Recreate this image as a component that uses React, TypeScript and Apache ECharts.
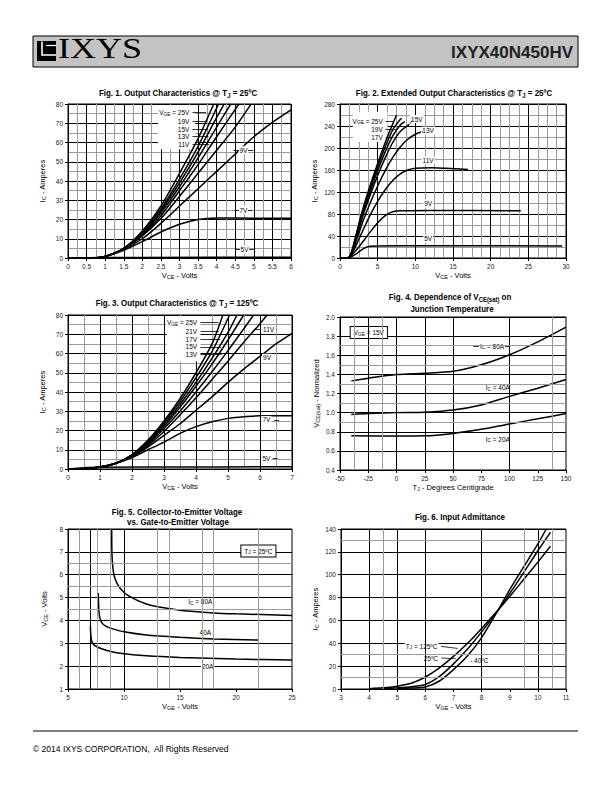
import React, { useEffect, useRef } from "react";
import * as echarts from "echarts";

const FONT = "'Liberation Sans', Arial, Helvetica, sans-serif";
const SERIF = "'Liberation Serif', 'Times New Roman', serif";

// ---------------- Fig. 1  (Output characteristics @ 25C) ----------------
const F1_V25 = [[0, 0], [0.7, 0.1], [1, 0.8], [1.5, 5], [2, 14], [2.5, 27], [3, 44], [3.5, 62], [3.92, 80]];
const F1_V19 = [[0, 0], [0.7, 0.1], [1, 0.8], [1.5, 5], [2, 13.5], [2.5, 25.5], [3, 41], [3.5, 58], [4.05, 80]];
const F1_V17 = [[0, 0], [0.7, 0.1], [1, 0.8], [1.5, 5], [2, 13], [2.5, 24.5], [3, 39], [3.5, 55], [4, 73], [4.2, 80]];
const F1_V15 = [[0, 0], [0.7, 0.1], [1, 0.8], [1.5, 4.9], [2, 12.5], [2.5, 23.5], [3, 37], [3.5, 52], [4, 68], [4.38, 80]];
const F1_V13 = [[0, 0], [0.7, 0.1], [1, 0.8], [1.5, 4.8], [2, 12], [2.5, 22], [3, 35], [3.5, 48.5], [4, 63], [4.6, 80]];
const F1_V11 = [[0, 0], [0.7, 0.1], [1, 0.8], [1.5, 4.7], [2, 11.5], [2.5, 20.5], [3, 32], [3.5, 44], [4, 56], [4.5, 68], [4.92, 79.8]];
const F1_V9 = [[0, 0], [0.7, 0.1], [1, 0.8], [1.5, 4.5], [2, 10], [2.5, 18], [3, 27], [3.5, 36], [4, 45], [4.5, 54], [5, 63], [5.5, 70.5], [6, 77]];
const F1_V7 = [[0, 0], [0.7, 0.1], [1, 0.8], [1.5, 4], [2, 8.5], [2.5, 13.5], [3, 17.5], [3.5, 20], [4, 20.8], [5, 20.7], [6, 20.6]];
const F1_V5 = [[0, 0], [1, 0.2], [2, 0.3], [6, 0.4]];
const F1_CURVES = [F1_V25, F1_V19, F1_V17, F1_V15, F1_V13, F1_V11, F1_V9, F1_V7, F1_V5];
const F1_LABELS: [string, number, number, string][] = [
  ["V{s|GE} = 25V", 3.32, 75.5, "r"],
  ["19V", 3.32, 71, "r"],
  ["15V", 3.32, 67, "r"],
  ["13V", 3.32, 63, "r"],
  ["11V", 3.32, 59, "r"],
  ["9V", 4.72, 56, "c"],
  ["7V", 4.72, 24.9, "c"],
  ["5V", 4.75, 4.5, "c"],
];
const F1_LEADERS = [
  [3.35, 75.5, 3.72, 75.5], [3.35, 71, 3.74, 71], [3.35, 67, 3.76, 67], [3.35, 63, 3.78, 63], [3.35, 59, 3.8, 59],
  [4.45, 56, 4.6, 56], [4.84, 56, 4.98, 56],
  [4.48, 24.9, 4.6, 24.9], [4.84, 24.9, 4.96, 24.9],
  [4.5, 4.5, 4.63, 4.5], [4.87, 4.5, 5.0, 4.5],
];
const F1_WHITE = [[2.42, 56.5, 3.42, 79.5]];

// ---------------- Fig. 2  (Extended output characteristics) ----------------
const F2_V25 = [[0, 0], [1, 0], [1.3, 3], [1.6, 14], [2, 35], [2.5, 62], [3, 88], [4, 132], [5, 172], [6, 210], [7, 244], [7.5, 260]];
const F2_V19 = [[0, 0], [1, 0], [1.3, 3], [1.6, 13], [2, 33], [2.5, 59], [3, 84], [4, 127], [5, 166], [6, 202], [7, 233], [8, 252], [8.2, 254]];
const F2_V17 = [[0, 0], [1, 0], [1.3, 3], [1.6, 12], [2, 31], [2.5, 56], [3, 80], [4, 121], [5, 159], [6, 193], [7, 222], [8, 242], [8.6, 248]];
const F2_V15 = [[0, 0], [1, 0], [1.3, 3], [1.6, 11], [2, 29], [2.5, 52], [3, 75], [4, 114], [5, 150], [6, 182], [7, 210], [8, 230], [9.2, 243]];
const F2_V13 = [[0, 0], [1, 0], [1.3, 3], [1.6, 10], [2, 25], [2.5, 45], [3, 65], [4, 100], [5, 131], [6, 159], [7, 183], [8, 202], [9, 216], [10, 225], [10.8, 229]];
const F2_V11 = [[0, 0], [1, 0], [1.3, 2.5], [1.6, 8], [2, 19], [2.5, 34], [3, 49], [4, 78], [5, 103], [6, 124], [7, 141], [8, 153], [9, 160], [10, 163], [12, 164], [14, 163], [17, 161]];
const F2_V9 = [[0, 0], [1, 0], [1.3, 2], [1.6, 6], [2, 12], [2.5, 20], [3, 29], [4, 47], [5, 64], [6, 77], [7, 84], [8, 86], [12, 86.5], [24, 86]];
const F2_V5 = [[0, 0], [1, 0], [1.3, 1], [1.6, 3], [2, 6], [2.5, 11], [3, 16], [3.5, 19.5], [4, 21.5], [5, 22], [10, 22.3], [29.5, 22]];
const F2_CURVES = [F2_V25, F2_V19, F2_V17, F2_V15, F2_V13, F2_V11, F2_V9, F2_V5];
const F2_LABELS: [string, number, number, string][] = [
  ["V{s|GE} = 25V", 5.95, 248.5, "r"],
  ["19V", 5.95, 234, "r"],
  ["17V", 5.95, 219.5, "r"],
  ["15V", 10.2, 252.7, "c"],
  ["13V", 11.7, 231.5, "c"],
  ["11V", 11.7, 178, "c"],
  ["9V", 11.7, 99.4, "c"],
  ["5V", 11.7, 35, "c"],
];
const F2_LEADERS = [
  [6.05, 248.5, 7.1, 248.5], [6.05, 234, 7.4, 234], [6.05, 219.5, 7.0, 219.5],
  [9.3, 244, 9.55, 250], [10.9, 229, 11.05, 231],
];
const F2_WHITE = [[1.7, 211, 6.3, 266]];

// ---------------- Fig. 3  (Output characteristics @ 125C) ----------------
const F3_V25 = [[0, 0], [0.6, 0.3], [1, 1], [1.5, 3], [2, 7.5], [2.5, 15], [3, 25], [3.5, 36.5], [4, 50], [4.5, 65], [4.84, 80]];
const F3_V21 = [[0, 0], [0.6, 0.3], [1, 1], [1.5, 3], [2, 7.3], [2.5, 14.5], [3, 24], [3.5, 35], [4, 47.5], [4.5, 61], [5.05, 80]];
const F3_V17 = [[0, 0], [0.6, 0.3], [1, 1], [1.5, 3], [2, 7.1], [2.5, 14], [3, 23], [3.5, 33.5], [4, 45], [4.5, 57.5], [5, 71], [5.28, 80]];
const F3_V15 = [[0, 0], [0.6, 0.3], [1, 1], [1.5, 3], [2, 7], [2.5, 13.5], [3, 22], [3.5, 32], [4, 43], [4.5, 54.5], [5, 67], [5.49, 80]];
const F3_V13 = [[0, 0], [0.6, 0.3], [1, 1], [1.5, 3], [2, 6.8], [2.5, 13], [3, 21], [3.5, 30], [4, 40], [4.5, 50.5], [5, 61.5], [5.5, 73], [5.8, 80]];
const F3_V11 = [[0, 0], [0.6, 0.3], [1, 1], [1.5, 3], [2, 6.6], [2.5, 12.3], [3, 19.5], [3.5, 28], [4, 37], [4.5, 46.5], [5, 56], [5.5, 66], [6, 75.5], [6.22, 80]];
const F3_V9 = [[0, 0], [0.6, 0.3], [1, 1], [1.5, 3], [2, 6.3], [2.5, 11.5], [3, 17.5], [3.5, 23.5], [4, 30.5], [4.5, 37.5], [5, 45], [5.5, 52], [6, 58.5], [6.5, 65], [7, 70.5]];
const F3_V7 = [[0, 0], [0.6, 0.3], [1, 1], [1.5, 3], [2, 6], [2.5, 10], [3, 14], [3.5, 18.5], [4, 22], [4.5, 24.5], [5, 26.3], [5.5, 27.2], [6, 27.6], [6.3, 27.7], [7, 27.7]];
const F3_V5 = [[0, 0], [0.6, 0.8], [3, 1], [7, 1.2]];
const F3_CURVES = [F3_V25, F3_V21, F3_V17, F3_V15, F3_V13, F3_V11, F3_V9, F3_V7, F3_V5];
const F3_LABELS: [string, number, number, string][] = [
  ["V{s|GE} = 25V", 4.1, 76, "r"],
  ["21V", 4.1, 71.3, "r"],
  ["17V", 4.1, 67.4, "r"],
  ["15V", 4.1, 63.5, "r"],
  ["13V", 4.1, 59.6, "r"],
  ["11V", 6.27, 72.6, "c"],
  ["9V", 6.22, 57.8, "c"],
  ["7V", 6.2, 25.5, "c"],
  ["5V", 6.2, 5.5, "c"],
];
const F3_LEADERS = [
  [4.14, 76, 4.7, 76], [4.14, 71.3, 4.72, 71.3], [4.14, 67.4, 4.75, 67.4], [4.14, 63.5, 4.78, 63.5], [4.14, 59.6, 4.8, 59.6],
  [6.45, 25.5, 6.6, 25.5], [6.4, 5.5, 6.55, 5.5], [5.85, 72.6, 6.0, 72.6],
];
const F3_WHITE = [[3.08, 55.8, 4.14, 79.5]];

// ---------------- Fig. 4  (VCE(sat) vs temperature) ----------------
const F4_IC80 = [[-40, 1.332], [-25, 1.36], [0, 1.398], [25, 1.412], [50, 1.432], [75, 1.5], [100, 1.605], [125, 1.74], [150, 1.895]];
const F4_IC40 = [[-40, 0.98], [-25, 0.99], [0, 1.0], [25, 1.005], [50, 1.027], [75, 1.08], [100, 1.17], [125, 1.255], [150, 1.346]];
const F4_IC20 = [[-40, 0.757], [0, 0.755], [25, 0.757], [50, 0.782], [75, 0.825], [100, 0.882], [125, 0.935], [150, 0.99]];
const F4_CURVES = [F4_IC80, F4_IC40, F4_IC20];
const F4_LABELS: [string, number, number, string][] = [
  ["I{s|C} = 80A", 84.5, 1.694, "c"],
  ["I{s|C} = 40A", 89.6, 1.259, "c"],
  ["I{s|C} = 20A", 89.6, 0.724, "c"],
];
const F4_BOXES: [string, number, number][] = [["V{s|GE} = 15V", -24.5, 1.838]];
const F4_LEADERS = [[68, 1.694, 73, 1.694], [96, 1.694, 100.5, 1.694]];
const F4_VLINES_BLACK = [-25, 0, 25, 50, 100];
const F4_VLINES_GRAY = [-37.5, -12.5, 137.5];
const F4_HLINES_GRAY = [0.9, 1.1, 1.3, 1.5, 1.7];

// ---------------- Fig. 5  (VCE vs VGE) ----------------
const F5_IC80 = [[8.9, 8], [8.92, 7], [8.97, 6.5], [9.1, 6.0], [9.4, 5.6], [10, 5.22], [11, 4.92], [12, 4.72], [13, 4.6], [15, 4.45], [18, 4.33], [20, 4.29], [25, 4.22]];
const F5_IC40 = [[7.7, 5.2], [7.75, 4.5], [7.85, 4.1], [8.1, 3.85], [8.5, 3.72], [9, 3.63], [10, 3.5], [12, 3.36], [15, 3.26], [18, 3.19], [22, 3.14]];
const F5_IC20 = [[7.0, 3.75], [7.05, 3.3], [7.15, 3.05], [7.4, 2.9], [8, 2.76], [9, 2.62], [10, 2.54], [12, 2.45], [15, 2.38], [20, 2.31], [25, 2.27]];
const F5_CURVES = [F5_IC80, F5_IC40, F5_IC20];
const F5_LABELS: [string, number, number, string][] = [
  ["I{s|C} = 80A", 16.81, 4.81, "c"],
  ["40A", 17.26, 3.48, "c"],
  ["20A", 17.47, 1.99, "c"],
];
const F5_BOXES: [string, number, number][] = [["T{s|J} = 25ºC", 22.0, 7.04]];
const F5_VLINES_BLACK = [7, 10];
const F5_VLINES_GRAY = [6, 7.65, 8.8, 13, 14, 17, 18, 22];
const F5_HLINES_GRAY = [4.5, 5.5, 6.5];

// ---------------- Fig. 6  (Input admittance) ----------------
const F6_T125 = [[4, 0.3], [4.5, 1], [5, 2.5], [5.5, 5], [6, 10.5], [6.5, 18.5], [7, 28.5], [7.5, 40], [8, 53], [8.6, 69.5], [9, 81], [9.5, 96], [10, 111], [10.45, 125]];
const F6_T25 = [[4.5, 0.3], [5, 1], [5.5, 2], [6, 4], [6.5, 11], [7, 22], [7.5, 35], [8, 50], [8.6, 69.5], [9, 83.5], [9.5, 102], [10, 121], [10.45, 137]];
const F6_TM40 = [[5, 0.3], [5.5, 0.8], [6, 1.8], [6.5, 7], [7, 17], [7.5, 29], [8, 45], [8.6, 69.5], [9, 87], [9.5, 107], [10, 127], [10.3, 140]];
const F6_CURVES = [F6_T125, F6_T25, F6_TM40];
const F6_LABELS: [string, number, number, string][] = [
  ["T{s|J} = 125ºC", 6.5, 37.3, "r"],
  ["25ºC", 6.52, 27.1, "r"],
  ["- 40ºC", 7.52, 24.8, "l"],
];
const F6_LEADERS = [[6.55, 37.3, 7.15, 35.5], [6.57, 27.1, 7.08, 26.5]];
const F6_VLINES_BLACK = [4, 5, 6, 8, 10];
const F6_VLINES_GRAY = [4.5, 9.5, 10.5];
const F6_HLINES_GRAY = [10, 30, 130];

// ---------------- layout ----------------
const GRIDS = [
  { left: 68, top: 104, width: 223, height: 154 },
  { left: 340, top: 104, width: 226, height: 154 },
  { left: 68, top: 315, width: 224, height: 154 },
  { left: 340, top: 317, width: 226, height: 153 },
  { left: 68, top: 529, width: 224, height: 160 },
  { left: 341, top: 529, width: 225, height: 160 },
];

const subRich = (fs: number, bold = false) => ({
  s: {
    fontSize: +(fs * 0.74).toFixed(2), fontFamily: FONT, fontWeight: bold ? "bold" : "normal", verticalAlign: "bottom",
    lineHeight: fs * 0.85, color: "#000", textBorderWidth: 0,
  },
});

function axis(
  gi: number, min: number, max: number, interval: number, name: string, nameGap: number,
  split: boolean, minorN: number, fmt?: (v: number) => string
) {
  return {
    type: "value", gridIndex: gi, min, max, interval,
    name, nameLocation: "middle", nameGap,
    nameTextStyle: { fontSize: 7.5, fontFamily: FONT, color: "#000", lineHeight: 9, rich: subRich(7.5) },
    axisLine: { show: true, onZero: false, lineStyle: { color: "#000", width: 1 } },
    axisTick: { show: true, inside: false, length: 3, lineStyle: { color: "#000", width: 1 } },
    axisLabel: { fontSize: 6.5, fontFamily: FONT, color: "#222", margin: 5, formatter: fmt },
    splitLine: { show: split, lineStyle: { color: "#000", width: 1 } },
    minorTick: { show: false, splitNumber: minorN || 2 },
    minorSplitLine: { show: minorN > 0, lineStyle: { color: "#9a9a9a", width: 1 } },
  };
}

function figSeries(
  gi: number, curves: number[][][], labels: [string, number, number, string][], leaders: number[][],
  white: number[][], boxes: [string, number, number][],
  vBlack: number[], vGray: number[], hGray: number[]
) {
  const out: any[] = [];
  const base = { xAxisIndex: gi, yAxisIndex: gi, silent: true };
  const gl: any[] = [];
  vBlack.forEach((v) => gl.push({ xAxis: v, lineStyle: { color: "#000", width: 1, type: "solid" } }));
  vGray.forEach((v) => gl.push({ xAxis: v, lineStyle: { color: "#9a9a9a", width: 1, type: "solid" } }));
  hGray.forEach((v) => gl.push({ yAxis: v, lineStyle: { color: "#9a9a9a", width: 1, type: "solid" } }));
  if (gl.length) {
    out.push({ ...base, type: "line", data: [], z: 1, markLine: { silent: true, symbol: ["none", "none"], label: { show: false }, data: gl } });
  }
  if (white.length) {
    out.push({
      ...base, type: "line", data: [], z: 2,
      markArea: { silent: true, itemStyle: { color: "#fff", opacity: 1 }, label: { show: false }, data: white.map((w) => [{ coord: [w[0], w[1]] }, { coord: [w[2], w[3]] }]) },
    });
  }
  curves.forEach((c) => {
    out.push({
      ...base, type: "line", data: c, showSymbol: false, symbol: "none", smooth: 0.25, z: 3,
      lineStyle: { color: "#000", width: 1.5 },
    });
  });
  const common = {
    show: true, fontFamily: FONT, color: "#000", textBorderWidth: 0, textBorderColor: "transparent",
    textShadowBlur: 0, textShadowColor: "transparent",
  };
  const labelData: any[] = labels.map(([t, x, y, a]) => ({
    value: [x, y],
    label: {
      ...common, formatter: t, fontSize: 6.5, lineHeight: 8, rich: subRich(6.5),
      backgroundColor: "#fff", padding: [0, 1],
      position: a === "r" ? "left" : a === "l" ? "right" : "inside", distance: 1,
    },
  }));
  boxes.forEach(([t, x, y]) => labelData.push({
    value: [x, y],
    label: {
      ...common, formatter: t, fontSize: 6.5, lineHeight: 8, rich: subRich(6.5),
      backgroundColor: "#fff", borderColor: "#000", borderWidth: 1, padding: [2, 3, 1, 3], position: "inside",
    },
  }));
  out.push({
    ...base, type: "scatter", symbol: "circle", symbolSize: 0.01, data: labelData, z: 4,
    itemStyle: { color: "#000", opacity: 1 },
    markLine: leaders.length ? {
      silent: true, symbol: ["none", "none"], label: { show: false },
      lineStyle: { color: "#000", width: 0.8, type: "solid" },
      data: leaders.map((l) => [{ coord: [l[0], l[1]] }, { coord: [l[2], l[3]] }]),
    } : undefined,
  });
  return out;
}

function titleText(text: string, cx: number, cy: number) {
  return {
    type: "text", x: cx, y: cy, scaleX: 0.84, z: 10, silent: true,
    style: {
      text, fontSize: 9.5, fontWeight: "bold", fontFamily: FONT, fill: "#000", align: "center", verticalAlign: "middle",
      lineHeight: 11, rich: subRich(9.5, true),
    },
  };
}

export default function App() {
  const ref = useRef<HTMLDivElement>(null);
  useEffect(() => {
    if (!ref.current) return;
    const chart = echarts.init(ref.current, undefined, { renderer: "svg" });
    const xName = "V{s|CE} - Volts";
    const icName = "I{s|C} - Amperes";
    const option: any = {
      animation: false,
      backgroundColor: "#fff",
      grid: GRIDS.map((g) => ({ ...g, show: true, borderColor: "#000", borderWidth: 1, backgroundColor: "#fff", containLabel: false })),
      xAxis: [
        axis(0, 0, 6, 0.5, xName, 13, true, 2),
        axis(1, 0, 30, 5, xName, 13, true, 4),
        axis(2, 0, 7, 1, xName, 13, true, 2),
        axis(3, -50, 150, 25, "T{s|J} - Degrees Centigrade", 13, false, 0),
        axis(4, 5, 25, 5, "V{s|GE} - Volts", 13, false, 0),
        axis(5, 3, 11, 1, "V{s|GE} - Volts", 13, false, 0),
      ],
      yAxis: [
        axis(0, 0, 80, 10, icName, 21, true, 2),
        axis(1, 0, 280, 40, icName, 21, true, 2),
        axis(2, 0, 80, 10, icName, 21, true, 2),
        axis(3, 0.4, 2.0, 0.2, "V{s|CE(sat)} - Normalized", 19, true, 0, (v: number) => v.toFixed(1)),
        axis(4, 1, 8, 1, "V{s|CE} - Volts", 19, true, 0),
        axis(5, 0, 140, 20, icName, 21, true, 0),
      ],
      series: [
        ...figSeries(0, F1_CURVES, F1_LABELS, F1_LEADERS, F1_WHITE, [], [], [], []),
        ...figSeries(1, F2_CURVES, F2_LABELS, F2_LEADERS, F2_WHITE, [], [], [], []),
        ...figSeries(2, F3_CURVES, F3_LABELS, F3_LEADERS, F3_WHITE, [], [], [], []),
        ...figSeries(3, F4_CURVES, F4_LABELS, F4_LEADERS, [], F4_BOXES, F4_VLINES_BLACK, F4_VLINES_GRAY, F4_HLINES_GRAY),
        ...figSeries(4, F5_CURVES, F5_LABELS, [], [], F5_BOXES, F5_VLINES_BLACK, F5_VLINES_GRAY, F5_HLINES_GRAY),
        ...figSeries(5, F6_CURVES, F6_LABELS, F6_LEADERS, [], [], F6_VLINES_BLACK, F6_VLINES_GRAY, F6_HLINES_GRAY),
      ],
      graphic: [
        // header band
        { type: "rect", shape: { x: 33, y: 36, width: 545, height: 31 }, style: { fill: "#c3c3c3", stroke: "#000", lineWidth: 1 }, silent: true },
        { type: "rect", shape: { x: 37, y: 41, width: 19, height: 20 }, style: { fill: "#000" }, silent: true },
        { type: "polyline", shape: { points: [[42, 41.5], [42, 55], [56, 55]] }, style: { stroke: "#fff", lineWidth: 1.6, fill: null }, silent: true },
        { type: "line", shape: { x1: 46, y1: 45.5, x2: 56, y2: 45.5 }, style: { stroke: "#fff", lineWidth: 1.2 }, silent: true },
        { type: "text", x: 58, y: 62.5, scaleX: 1.2, style: { text: "IXYS", fontSize: 30, fontFamily: SERIF, fill: "#000", verticalAlign: "bottom" }, silent: true },
        { type: "text", x: 573, y: 52, style: { text: "IXYX40N450HV", fontSize: 17, fontWeight: "bold", fontFamily: FONT, fill: "#222", align: "right", verticalAlign: "middle" }, silent: true },
        // titles
        titleText("Fig. 1. Output Characteristics @ T{s|J} = 25ºC", 178, 93),
        titleText("Fig. 2. Extended Output Characteristics @ T{s|J} = 25ºC", 454, 93),
        titleText("Fig. 3. Output Characteristics @ T{s|J} = 125ºC", 177, 303),
        titleText("Fig. 4. Dependence of V{s|CE(sat)} on", 450, 297),
        titleText("Junction Temperature", 452, 309),
        titleText("Fig. 5. Collector-to-Emitter Voltage", 177, 511.5),
        titleText("vs. Gate-to-Emitter Voltage", 178, 521.5),
        titleText("Fig. 6. Input Admittance", 460, 516.5),
        // footer
        { type: "line", shape: { x1: 33, y1: 731, x2: 578, y2: 731 }, style: { stroke: "#000", lineWidth: 1 }, silent: true },
        { type: "text", x: 33, y: 749, style: { text: "© 2014 IXYS CORPORATION,  All Rights Reserved", fontSize: 8.5, fontFamily: FONT, fill: "#000", verticalAlign: "middle" }, silent: true },
      ],
    };
    chart.setOption(option);
    return () => chart.dispose();
  }, []);
  return <div ref={ref} style={{ position: "absolute", left: 0, top: 0, width: 612, height: 792, background: "#fff" }} />;
}
